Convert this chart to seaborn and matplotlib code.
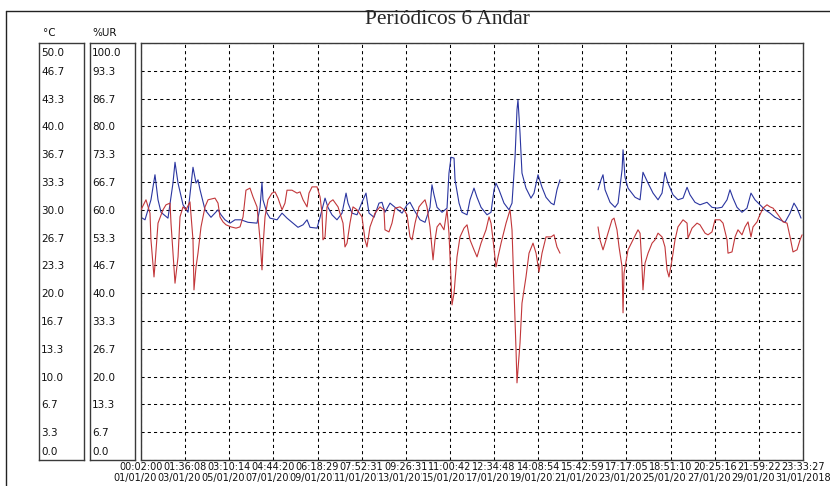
import matplotlib
matplotlib.use('Agg')
import matplotlib.pyplot as plt
from matplotlib.lines import Line2D
import numpy as np
import pandas as pd
import seaborn as sns

# ---- data ----
title = 'Periódicos 6 Andar'
start_time = '2018-01-01 00:02:00'
end_time = '2018-01-31 23:33:27'

tick_times = ['00:02:00', '01:36:08', '03:10:14', '04:44:20', '06:18:29', '07:52:31',
              '09:26:31', '11:00:42', '12:34:48', '14:08:54', '15:42:59', '17:17:05',
              '18:51:10', '20:25:16', '21:59:22', '23:33:27']
tick_dates = ['01/01/2018', '03/01/2018', '05/01/2018', '07/01/2018', '09/01/2018',
              '11/01/2018', '13/01/2018', '15/01/2018', '17/01/2018', '19/01/2018',
              '21/01/2018', '23/01/2018', '25/01/2018', '27/01/2018', '29/01/2018',
              '31/01/2018']

temp_labels = ['0.0', '3.3', '6.7', '10.0', '13.3', '16.7', '20.0', '23.3', '26.7',
               '30.0', '33.3', '36.7', '40.0', '43.3', '46.7', '50.0']
hum_labels = ['0.0', '6.7', '13.3', '20.0', '26.7', '33.3', '40.0', '46.7', '53.3',
              '60.0', '66.7', '73.3', '80.0', '86.7', '93.3', '100.0']

# temperature (°C, blue) - hours since start, NaN = logger gap
temp_hours = [0, 4.5, 11.2, 15.7, 19.1, 22.5, 30.3, 35.9, 38.2, 41.6,
              47.2, 52.8, 58.4, 61.8, 64.0, 66.3, 71.9, 78.6, 86.5, 89.9,
              94.3, 100.0, 105.6, 112.3, 120.2, 130.3, 133.7, 135.9, 137.0, 141.5,
              144.9, 152.8, 158.4, 164.0, 170.7, 176.3, 182.0, 186.5, 189.8, 197.7,
              201.1, 206.7, 210.0, 214.5, 220.1, 225.8, 230.3, 232.5, 237.0, 242.6,
              248.2, 252.7, 256.1, 261.7, 267.3, 270.7, 274.0, 279.7, 285.3, 293.2,
              298.8, 302.1, 306.6, 313.4, 319.0, 324.6, 326.8, 329.1, 332.5, 338.1,
              343.7, 345.9, 348.2, 351.6, 352.7, 357.2, 360.5, 366.2, 369.5, 374.0,
              377.4, 381.9, 388.6, 393.1, 396.5, 398.7, 402.1, 407.7, 413.3, 416.7,
              420.1, 422.3, 423.4, 425.7, 427.9, 432.4, 438.0, 441.4, 445.9, 450.4,
              454.9, 460.5, 463.9, 467.2, 470.6,
              492.0,
              513.3, 516.7, 518.9, 521.2, 526.8, 532.4, 535.8, 540.3, 541.4, 543.6,
              547.0, 554.9, 560.5, 563.8, 569.5, 575.1, 580.7, 585.2, 588.5, 591.9,
              597.5, 603.1, 608.8, 613.3, 616.6, 622.2, 627.8, 635.7, 641.3, 646.9,
              652.5, 658.2, 661.5, 664.9, 669.4, 675.0, 680.6, 685.1, 689.6, 695.2,
              700.9, 706.5, 712.1, 717.7, 723.3, 729.0, 733.4, 736.8, 741.3]
temp_values = [29.1, 28.8, 31.2, 34.2, 31.2, 29.7, 29.0, 33.2, 35.7, 33.2,
               30.6, 29.7, 35.1, 33.2, 33.6, 32.4, 30.0, 29.1, 30.0, 29.4,
               28.8, 28.4, 28.8, 28.8, 28.5, 28.4, 30.3, 33.3, 31.2, 29.6,
               29.0, 28.8, 29.6, 29.0, 28.4, 27.9, 28.2, 28.8, 27.9, 27.8,
               29.1, 31.4, 30.3, 29.4, 28.8, 29.6, 32.0, 30.8, 29.6, 29.4,
               30.9, 32.0, 29.6, 29.1, 30.8, 30.9, 29.7, 30.8, 30.3, 29.6,
               30.6, 30.9, 30.0, 28.8, 28.5, 30.3, 33.0, 31.8, 30.3, 29.7,
               30.2, 34.4, 36.3, 36.2, 33.6, 30.8, 29.7, 29.4, 31.2, 32.6,
               31.5, 30.3, 29.4, 29.7, 32.4, 33.2, 32.4, 30.8, 30.0, 30.8,
               36.3, 42.0, 43.2, 39.2, 34.4, 32.6, 31.4, 32.0, 34.2, 32.7,
               31.5, 30.8, 30.6, 32.4, 33.6,
               np.nan,
               32.4, 33.6, 34.2, 32.4, 30.9, 30.3, 30.8, 34.8, 37.2, 33.9,
               32.6, 31.5, 31.2, 34.5, 33.2, 32.0, 31.2, 32.0, 34.5, 33.2,
               31.8, 31.2, 31.4, 32.7, 31.8, 30.9, 30.6, 30.9, 30.3, 30.2,
               30.3, 31.2, 32.4, 31.4, 30.3, 29.7, 30.2, 32.0, 31.2, 30.6,
               30.0, 29.6, 29.1, 28.8, 28.5, 29.6, 30.8, 30.2, 29.0]

# relative humidity (%UR, red)
hum_hours = [0, 5.6, 10.1, 11.2, 14.6, 15.7, 19.1, 24.7, 28.1, 32.6,
             33.7, 35.9, 38.2, 41.6, 43.8, 47.2, 50.5, 55.0, 58.4, 59.5,
             61.8, 64.0, 67.4, 71.9, 75.3, 83.1, 86.5, 88.7, 92.1, 95.5,
             101.1, 106.7, 111.2, 114.6, 117.9, 122.4, 125.8, 130.3, 133.7, 135.9,
             137.0, 139.3, 142.6, 147.1, 150.5, 153.9, 158.4, 161.7, 164.0, 169.6,
             175.2, 178.6, 182.0, 186.5, 188.7, 192.1, 197.7, 201.1, 203.3, 204.4,
             206.7, 208.9, 212.3, 215.6, 221.3, 226.9, 229.1, 231.4, 234.7, 238.1,
             242.6, 248.2, 251.6, 253.8, 257.2, 262.8, 268.4, 272.9, 274.0, 278.5,
             281.9, 285.3, 290.9, 295.4, 298.8, 302.1, 304.4, 307.8, 312.2, 315.6,
             319.0, 321.2, 324.6, 328.0, 330.2, 332.5, 335.8, 340.3, 343.7, 345.9,
             348.2, 349.3, 351.6, 354.9, 358.3, 362.8, 366.2, 369.5, 374.0, 377.4,
             381.9, 387.5, 390.9, 393.1, 395.4, 398.7, 401.0, 404.4, 410.0, 414.5,
             416.7, 419.0, 421.2, 422.3, 425.7, 427.9, 432.4, 435.8, 440.3, 443.7,
             447.0, 450.4, 454.9, 460.5, 463.9, 467.2, 470.6,
             492.0,
             513.3, 515.5, 518.9, 521.2, 524.5, 529.0, 531.3, 534.6, 536.9, 540.3,
             541.4, 542.5, 547.0, 552.6, 558.2, 560.5, 562.7, 563.8, 566.1, 569.5,
             574.0, 577.3, 580.7, 585.2, 588.5, 590.8, 593.0, 596.4, 599.8, 603.1,
             608.8, 613.3, 614.4, 618.9, 624.5, 627.8, 633.5, 636.8, 641.3, 644.7,
             650.3, 653.7, 658.2, 659.3, 663.8, 667.2, 670.5, 675.0, 678.4, 681.8,
             685.1, 687.4, 691.9, 694.1, 698.6, 703.1, 706.5, 709.9, 715.5, 721.1,
             725.6, 729.0, 732.3, 736.8, 740.2, 742.5]
hum_values = [60.0, 62.4, 59.2, 52.8, 43.9, 46.8, 56.8, 60.0, 61.2, 61.6,
              56.8, 49.6, 42.4, 48.7, 58.3, 60.7, 60.0, 61.9, 52.8, 40.8,
              46.3, 49.6, 55.9, 60.7, 62.4, 62.8, 61.6, 58.3, 57.1, 56.4,
              55.9, 55.6, 55.9, 58.3, 64.7, 65.2, 63.1, 60.7, 52.8, 45.6,
              51.1, 58.3, 62.4, 64.0, 64.3, 62.8, 60.0, 61.6, 64.7, 64.7,
              64.0, 64.3, 62.4, 60.7, 64.0, 65.5, 65.5, 63.1, 59.2, 52.8,
              53.5, 60.7, 61.9, 62.4, 60.7, 56.8, 51.1, 52.0, 56.8, 60.7,
              60.0, 58.3, 52.8, 51.1, 55.9, 59.2, 60.7, 60.0, 55.2, 54.7,
              56.8, 60.4, 60.7, 60.0, 58.8, 53.5, 52.8, 56.8, 60.7, 61.6,
              62.4, 60.7, 55.9, 48.0, 52.8, 55.9, 56.8, 55.2, 60.0, 54.4,
              43.2, 37.2, 40.0, 48.7, 53.5, 55.6, 56.4, 52.8, 50.4, 48.7,
              52.0, 55.2, 58.3, 56.8, 52.8, 46.3, 48.7, 52.0, 56.8, 60.0,
              55.2, 40.8, 26.4, 18.5, 28.1, 37.6, 43.9, 49.6, 52.0, 49.6,
              45.1, 49.6, 53.5, 53.5, 54.0, 51.1, 49.6,
              np.nan,
              55.9, 52.8, 50.4, 52.0, 54.4, 57.6, 58.0, 55.2, 51.1, 46.3,
              35.3, 44.8, 50.4, 52.8, 55.2, 54.4, 46.3, 40.8, 47.2, 49.6,
              52.0, 52.8, 54.4, 53.5, 51.1, 45.6, 43.9, 48.0, 52.8, 55.9,
              57.6, 56.8, 53.2, 55.6, 56.8, 56.4, 54.4, 54.0, 54.7, 57.6,
              57.6, 56.8, 52.8, 49.6, 49.9, 53.5, 55.2, 54.0, 55.9, 57.1,
              53.5, 55.9, 57.1, 58.3, 60.4, 61.2, 60.7, 60.4, 58.8, 57.1,
              56.8, 53.5, 49.9, 50.4, 52.8, 54.0]


def to_frame(hours, values):
    df = pd.DataFrame({'hours': hours, 'value': values})
    df['seg'] = df['value'].isna().cumsum()
    return df.dropna()


temp_df = to_frame(temp_hours, temp_values)
hum_df = to_frame(hum_hours, hum_values)
span = (pd.Timestamp(end_time) - pd.Timestamp(start_time)) / pd.Timedelta(hours=1)

sns.set_style('white')
plt.rcParams['font.family'] = ['DejaVu Sans']

W, H = 830, 486
fig = plt.figure(figsize=(W / 100, H / 100), dpi=100)


def px_rect(x0, y0, x1, y1):
    return [x0 / W, 1 - y1 / H, (x1 - x0) / W, (y1 - y0) / H]


frame_col = '#3a3a3a'
grid_style = dict(color='black', linestyle=(0, (3, 3)), linewidth=0.75)

# main plot area
ax = fig.add_axes(px_rect(141, 43, 803, 460))
ax2 = ax.twinx()
sns.lineplot(data=temp_df, x='hours', y='value', units='seg', estimator=None,
             sort=False, color='#2a35a0', linewidth=0.8, ax=ax)
sns.lineplot(data=hum_df, x='hours', y='value', units='seg', estimator=None,
             sort=False, color='#c2373a', linewidth=0.8, ax=ax2)

ax.set_xlim(0, span)
ax.set_ylim(0, 50)
ax2.set_ylim(0, 100)
tick_pos = np.linspace(0, span, len(tick_times))
ax.set_xticks(tick_pos)
ax.set_yticks(np.linspace(0, 50, len(temp_labels)))
ax.tick_params(axis='both', length=0, labelleft=False, labelbottom=False)
ax.grid(True, **grid_style)
ax.set_axisbelow(True)
ax2.set_yticks([])
ax.set_xlabel('')
ax.set_ylabel('')
ax2.set_ylabel('')
for sp in ax.spines.values():
    sp.set_color(frame_col)
    sp.set_linewidth(1.0)
for sp in ax2.spines.values():
    sp.set_visible(False)

# time / date rows under the plot; later labels cover earlier ones, as on the logger
for i, (x, t, d) in enumerate(zip(tick_pos, tick_times, tick_dates)):
    for txt, dy, z in [(d, -13.0, 5 + i), (t, -5.0, 30 + i)]:
        ax.annotate(txt, (x, 0), xycoords=('data', 'axes fraction'),
                    xytext=(0, dy), textcoords='offset points',
                    ha='center', va='center', fontsize=7, color='#111111',
                    annotation_clip=False, zorder=z,
                    bbox=dict(facecolor='white', edgecolor='none', pad=0))

# scale boxes
for rect, labels, top, unit, ux in [((39, 43, 84, 460), temp_labels, 50, '°C', 43),
                                    ((90, 43, 135, 460), hum_labels, 100, '%UR', 92)]:
    bx = fig.add_axes(px_rect(*rect))
    bx.set_ylim(0, top)
    bx.set_xticks([])
    bx.set_yticks([])
    for sp in bx.spines.values():
        sp.set_color(frame_col)
        sp.set_linewidth(1.0)
    vals = np.linspace(0, top, len(labels))
    for i, (v, lbl) in enumerate(zip(vals, labels)):
        dy = -0.7
        if i == len(labels) - 1:
            dy = -7.3
        elif i == 0:
            dy = 5.8
        bx.annotate(lbl, (0.05, v), xycoords=('axes fraction', 'data'),
                    xytext=(0, dy), textcoords='offset points',
                    va='center', ha='left', fontsize=7.5, color='#111111')
    fig.text(ux / W, 1 - 33 / H, unit, ha='left', va='center', fontsize=7.5,
             color='#111111')

# outer frame (left and top edges)
fig.add_artist(Line2D([6 / W, 6 / W], [0, 1 - 11 / H], color='#222222', lw=1.0))
fig.add_artist(Line2D([6 / W, 1], [1 - 11 / H, 1 - 11 / H], color='#222222', lw=1.0))

fig.text(447 / W, 1 - 20 / H, title, ha='center', va='center',
         family='Liberation Serif', fontsize=15.5)

fig.savefig('out.png', dpi=100)
